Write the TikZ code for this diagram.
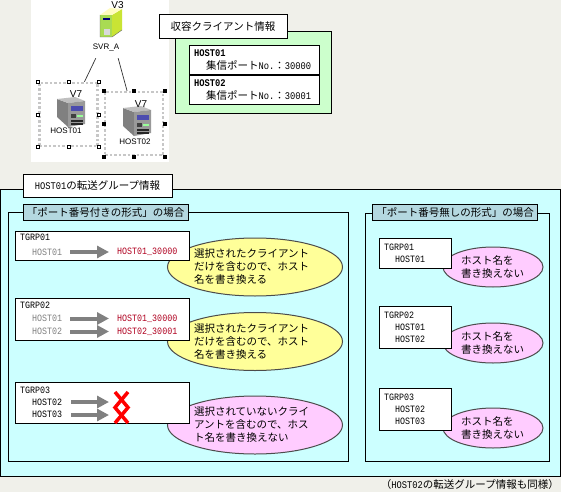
\documentclass[tikz,border=0pt]{standalone}
\usepackage{fontspec}
\setmainfont{Noto Sans CJK JP}
\setmonofont[Scale=0.97,FakeStretch=0.86]{Liberation Mono}
\newfontfamily\iconfont{Liberation Sans}
\usetikzlibrary{positioning,arrows.meta,shapes.geometric}
\definecolor{pagebg}{HTML}{F0F0EA}
\definecolor{cyanbg}{HTML}{CCFFFF}
\definecolor{greenbg}{HTML}{CCFFCC}
\definecolor{labelbg}{HTML}{B4D8E0}
\definecolor{yellowbg}{HTML}{FFFF99}
\definecolor{pinkbg}{HTML}{FFCCFF}
\definecolor{hostred}{HTML}{B00020}
\definecolor{hostgray}{HTML}{808080}
\newcommand{\hn}[1]{{\ttfamily #1}}
\tikzset{
  movearrow/.style={-{Triangle[length=12pt,width=12pt]}, line width=4pt, draw=hostgray},
  titlebox/.style={draw, line width=1pt, fill=white, inner sep=0pt},
  framebox/.style={draw, line width=1pt, inner sep=0pt},
  labelbox/.style={draw, line width=1pt, fill=labelbg, inner sep=0pt, minimum width=165pt, minimum height=16pt},
  tgrpbox/.style={draw, line width=1pt, fill=white, inner xsep=5pt, inner ysep=0pt, align=left, font=\ttfamily},
  infobox/.style={draw, line width=1pt, fill=white, inner xsep=5pt, inner ysep=0pt, minimum height=29pt, text width=120pt, align=left},
  bubble/.style={ellipse, draw=black!70, line width=1pt, inner sep=0pt, align=left},
  hostname/.style={inner sep=0pt, anchor=west, font=\ttfamily},
  iconlabel/.style={inner sep=0pt, font=\iconfont\fontsize{8}{8}\selectfont},
  verlabel/.style={inner sep=0pt, font=\iconfont\fontsize{10}{10}\selectfont},
  hostframe/.style={draw=black!22, line width=2.5pt, dotted, inner sep=0pt, minimum width=58pt, minimum height=63pt},
  handlewhite/.style={draw, line width=0.8pt, fill=white, inner sep=0pt, minimum size=3pt},
  handleblack/.style={draw, fill=black, inner sep=0pt, minimum size=3pt},
  hosticon/.pic={
    \fill[black!50] (0,2) -- (11,6) -- (11,30) -- (0,20) -- cycle;
    \fill[black!25] (0,2) -- (18,0) -- (28,4) -- (11,6) -- cycle;
    \fill[black!40] (11,6) -- (28,4) -- (28,27) -- (11,30) -- cycle;
    \fill[blue!55!black!70!white] (14,9) rectangle (26,14);
    \fill[black!75] (14,17) rectangle (19,21);
    \fill[green!40!white] (20,18) rectangle (26,20);
    \fill[black!85] (14,23) rectangle (26,24.5);
    \fill[black!85] (14,26) rectangle (26,27.5);
  },
  servericon/.pic={
    \fill[yellow!55!green!75!white] (0,7) -- (12,7) -- (12,29) -- (0,29) -- cycle;
    \fill[yellow!75!green!85!white] (12,7) -- (22,1) -- (22,22) -- (12,29) -- cycle;
    \fill[yellow!25!white] (0,7) -- (10,0) -- (22,1) -- (12,7) -- cycle;
    \fill[black!55!blue] (3,10) rectangle (10,12);
    \fill[black!15] (4,21) rectangle (10,27);
    \draw[black!60, line width=0.4pt] (0,7) -- (0,29) -- (12,29) -- (22,22);
  }
}

\begin{document}
\begin{tikzpicture}[x=1pt, y=-1pt, every node/.style={font=\fontsize{10.5}{13}\selectfont}]
  \useasboundingbox (0,0) rectangle (561,492);
  \fill[pagebg] (0,0) rectangle (561,492);
  % server tree
  \fill[white] (31,0) rectangle (169,162);
  \pic at (100,8) {servericon};
  \pic at (57,97) {hosticon};
  \pic at (123,106) {hosticon};
  \node[iconlabel, minimum width=26pt, minimum height=20pt] (svr) at (106,48) {SVR\_A};
  \node[verlabel] (svrver) at (117.5,5) {V3};
  \node[hostframe] (host1) at (68.5,114.5) {};
  \node[hostframe] (host2) at (134,123.5) {};
  \node[verlabel] (host1ver) at (76,94) {V7};
  \node[verlabel] (host2ver) at (141,104) {V7};
  \node[iconlabel] (host1name) at (66,131) {HOST01};
  \node[iconlabel] (host2name) at (135,142) {HOST02};
  \foreach \a [count=\i] in {north west,north,north east,east,south east,south,south west,west} {
    \node[handlewhite] (hdlA\i) at (host1.\a) {};
    \node[handleblack] (hdlB\i) at (host2.\a) {};
  }
  \draw[line width=0.7pt, black!80] (svr.-135) -- (host1.64);
  \draw[line width=0.7pt, black!80] (svr.-40) -- (host2.102);
  % client info
  \node[framebox, fill=greenbg, minimum width=156pt, minimum height=81pt] (clientbg) at (253,72.5) {};
  \node[titlebox, minimum width=128pt, minimum height=24pt] (clienttitle) at (223,27) {収容クライアント情報};
  \node[infobox] (client1) at (254,60.5) {\hn{\bfseries HOST01}\\\hspace{12pt}集信ポート\hn{No.}：\hn{30000}};
  \node[infobox] (client2) at (254,90) {\hn{\bfseries HOST02}\\\hspace{12pt}集信ポート\hn{No.}：\hn{30001}};
  % transfer group info
  \node[framebox, fill=cyanbg, minimum width=560pt, minimum height=287pt] (mainbg) at (280.5,332.5) {};
  \node[titlebox, minimum width=149pt, minimum height=23pt] (maintitle) at (97.5,185.5) {\hn{HOST01}の転送グループ情報};
  \node[framebox, minimum width=340pt, minimum height=249pt] (portframe) at (178,336.5) {};
  \node[framebox, minimum width=184pt, minimum height=248pt] (plainframe) at (457,337) {};
  \node[labelbox] (portlabel) at (105.5,212) {「ポート番号付きの形式」の場合};
  \node[labelbox] (plainlabel) at (455,212) {「ポート番号無しの形式」の場合};
  % with port number
  \node[bubble, fill=yellowbg, minimum width=175pt, minimum height=58pt, text width=122pt] (note1) at (255,267) {選択されたクライアント\\だけを含むので、ホスト\\名を書き換える};
  \node[bubble, fill=yellowbg, minimum width=175pt, minimum height=58pt, text width=122pt] (note2) at (255,341.5) {選択されたクライアント\\だけを含むので、ホスト\\名を書き換える};
  \node[bubble, fill=pinkbg, minimum width=175pt, minimum height=58pt, text width=122pt] (note3) at (255,425) {選択されていないクライ\\アントを含むので、ホス\\ト名を書き換えない};
  \node[tgrpbox, text width=164pt, minimum height=29pt] (grpA) at (102,245.5) {TGRP01\\\strut};
  \node[tgrpbox, text width=164pt, minimum height=42pt] (grpB) at (102,319) {TGRP02\\\strut\\\strut};
  \node[tgrpbox, text width=164pt, minimum height=41pt] (grpC) at (102,402.5) {TGRP03\\\hspace*{12pt}HOST02\\\hspace*{12pt}HOST03};
  \node[hostname, text=hostgray] (srcA1) at (32,252) {HOST01};
  \node[hostname, text=hostred] (dstA1) at (117,252) {HOST01\_30000};
  \node[hostname, text=hostgray] (srcB1) at (32,318.5) {HOST01};
  \node[hostname, text=hostred] (dstB1) at (117,318.5) {HOST01\_30000};
  \node[hostname, text=hostgray] (srcB2) at (32,331.5) {HOST02};
  \node[hostname, text=hostred] (dstB2) at (117,331.5) {HOST02\_30001};
  \coordinate (srcC1) at (63,402);
  \coordinate (dstC1) at (117,402);
  \coordinate (srcC2) at (63,415);
  \coordinate (dstC2) at (117,415);
  \draw[movearrow, shorten <=8pt, shorten >=8pt] (srcA1) -- (dstA1);
  \draw[movearrow, shorten <=8pt, shorten >=8pt] (srcB1) -- (dstB1);
  \draw[movearrow, shorten <=8pt, shorten >=8pt] (srcB2) -- (dstB2);
  \draw[movearrow, shorten <=8pt, shorten >=8pt] (srcC1) -- (dstC1);
  \draw[movearrow, shorten <=8pt, shorten >=8pt] (srcC2) -- (dstC2);
  \draw[red, line width=3.5pt] (115,392) -- (128,407.5) -- (115,423);
  \draw[red, line width=3.5pt] (128,392) -- (115,407.5) -- (128,423);
  % without port number
  \node[bubble, fill=pinkbg, minimum width=100pt, minimum height=40pt, text width=64pt] (note4) at (493,267) {ホスト名を\\書き換えない};
  \node[bubble, fill=pinkbg, minimum width=100pt, minimum height=40pt, text width=64pt] (note5) at (493,343) {ホスト名を\\書き換えない};
  \node[bubble, fill=pinkbg, minimum width=100pt, minimum height=40pt, text width=64pt] (note6) at (493,428) {ホスト名を\\書き換えない};
  \node[tgrpbox, text width=62pt, minimum height=30pt] (plainA) at (415,253) {TGRP01\\\hspace*{11pt}HOST01};
  \node[tgrpbox, text width=62pt, minimum height=42pt] (plainB) at (415,327) {TGRP02\\\hspace*{11pt}HOST01\\\hspace*{11pt}HOST02};
  \node[tgrpbox, text width=62pt, minimum height=42pt] (plainC) at (415,409) {TGRP03\\\hspace*{11pt}HOST02\\\hspace*{11pt}HOST03};
  \node[inner sep=0pt, anchor=east] (footnote) at (559,485) {（\hn{HOST02}の転送グループ情報も同様）};
\end{tikzpicture}
\end{document}
